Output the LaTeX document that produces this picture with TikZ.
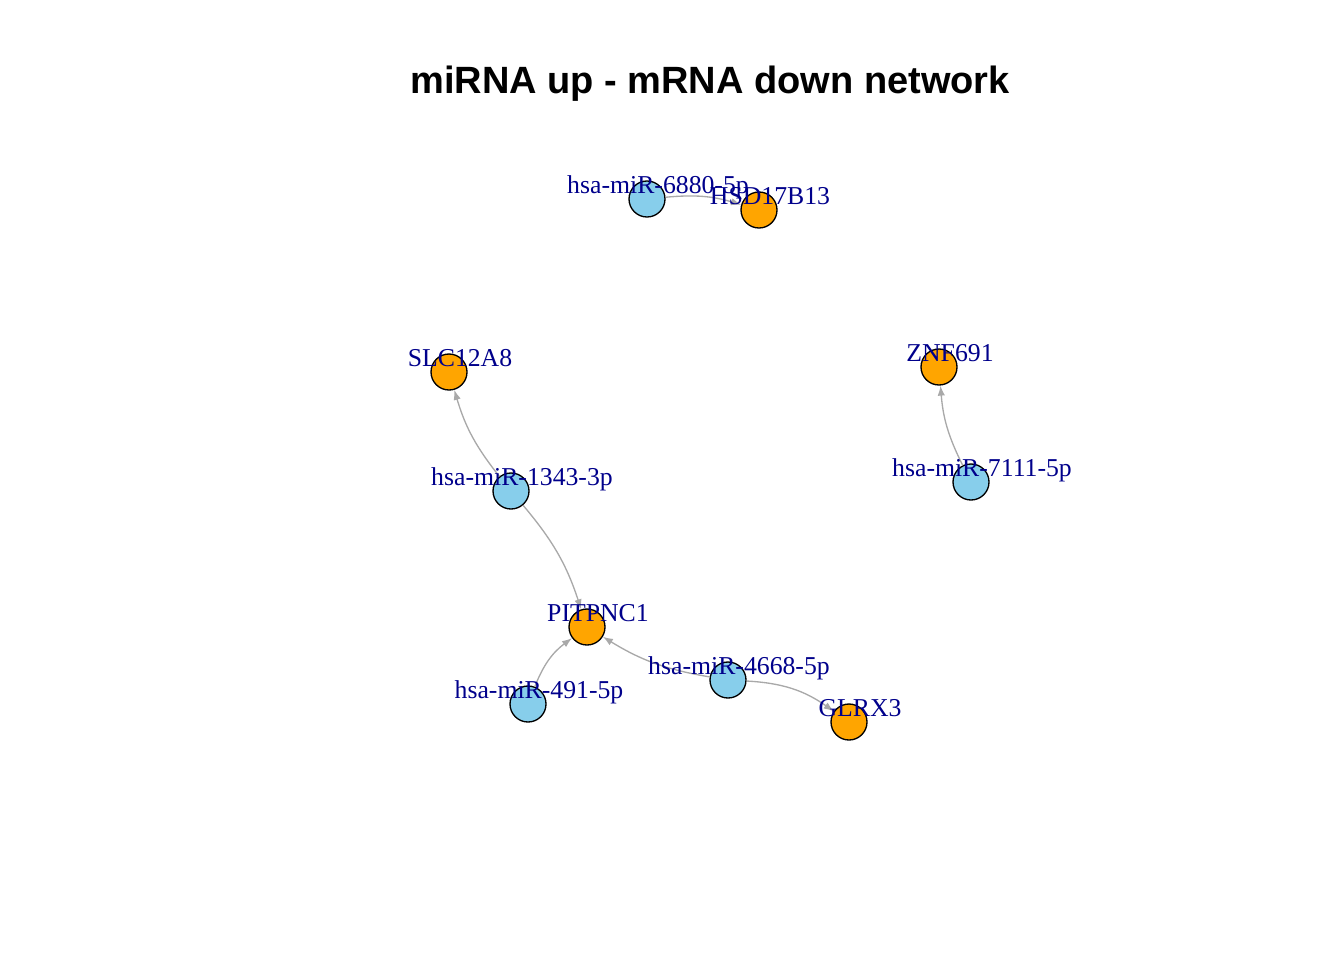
\documentclass[tikz,border=0pt]{standalone}
\usepackage{fontspec}
\setmainfont{Liberation Serif}
\newfontfamily\titlefont{Liberation Sans}
\usetikzlibrary{arrows.meta}
\definecolor{mirnablue}{HTML}{87CEEB}
\definecolor{genecolor}{HTML}{FFA500}
\definecolor{labelblue}{HTML}{00008B}
\definecolor{edgegray}{HTML}{A9A9A9}
\newcommand{\labdx}{11}
\newcommand{\labdy}{-6}

\begin{document}
\begin{tikzpicture}[x=0.75pt, y=-0.75pt, >={Latex[length=7.5pt,width=5.5pt]},
    mirna/.style={circle, draw=black, line width=1pt, fill=mirnablue, minimum size=27pt, inner sep=0pt},
    gene/.style={circle, draw=black, line width=1pt, fill=genecolor, minimum size=27pt, inner sep=0pt},
    edge/.style={->, draw=edgegray, line width=1pt, bend left=11},
    lab/.style={text=labelblue, font=\fontsize{19.3pt}{22pt}\selectfont, anchor=base, inner sep=0pt}]
    \useasboundingbox (0, 0) rectangle (1344, 960);

    % title
    \node [font=\titlefont\bfseries\fontsize{28.5pt}{32pt}\selectfont] (title) at (710, 84) {miRNA up - mRNA down network};

    % vertices
    \node [mirna] (m6880) at (647, 199) {};
    \node [gene] (hsd) at (759, 210) {};
    \node [gene] (slc) at (449, 372) {};
    \node [gene] (znf) at (939, 367) {};
    \node [mirna] (m1343) at (511, 491) {};
    \node [mirna] (m7111) at (971, 482) {};
    \node [gene] (pit) at (587, 627) {};
    \node [mirna] (m4668) at (728, 680) {};
    \node [mirna] (m491) at (528, 704) {};
    \node [gene] (glrx) at (849, 722) {};

    % edges
    \draw [edge] (m6880) to (hsd);
    \draw [edge] (m1343) to (slc);
    \draw [edge] (m1343) to (pit);
    \draw [edge] (m7111) to (znf);
    \draw [edge, bend left=16] (m491) to (pit);
    \draw [edge] (m4668) to (pit);
    \draw [edge, bend left=16] (m4668) to (glrx);

    % labels
    \foreach \v/\t in {m6880/hsa-miR-6880-5p, hsd/HSD17B13, slc/SLC12A8, znf/ZNF691,
        m1343/hsa-miR-1343-3p, m7111/hsa-miR-7111-5p, pit/PITPNC1,
        m4668/hsa-miR-4668-5p, m491/hsa-miR-491-5p, glrx/GLRX3}
        \node [lab] (lab-\v) at ([shift={(\labdx, \labdy)}]\v.center) {\t};
\end{tikzpicture}
\end{document}
